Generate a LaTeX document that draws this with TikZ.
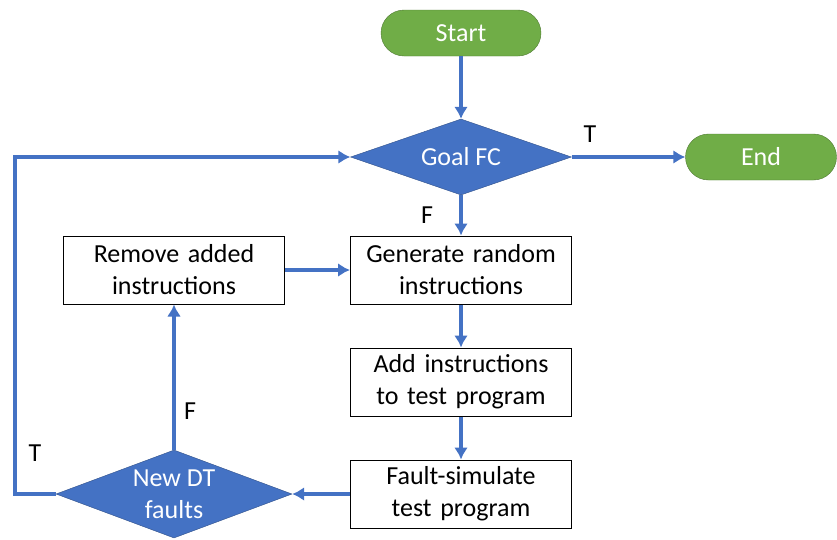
\documentclass[tikz,border=0pt]{standalone}
\usepackage{fontspec}
\setmainfont{Carlito}
\usetikzlibrary{arrows.meta,shapes.geometric}
\definecolor{fcblue}{HTML}{4472C4}
\definecolor{fcgreen}{HTML}{70AD47}

\begin{document}
\begin{tikzpicture}
		[x=1pt,y=-1pt,
		font=\fontsize{26}{32}\selectfont,
		term/.style ={rectangle, draw=fcgreen!70!black, fill=fcgreen, text=white, rounded corners=23pt, minimum width=160, minimum height=46},
		block/.style ={rectangle, draw=black, line width=1pt, fill=white, text width=215, align=center, minimum width=221, minimum height=68, inner sep=0pt},
		decision/.style ={diamond, draw=fcblue!70!black, fill=fcblue, text=white, align=center, inner sep=0pt, aspect=2.9, minimum width=221, minimum height=76},
		line/.style ={color=fcblue, line width=3.5pt, -{Latex[length=12pt,width=14pt]}}]
		\useasboundingbox (0,0) rectangle (837,539);

		\node[term] (start) at (461,33) {Start};
		\node[decision] (goal) at (461,157) {Goal FC};
		\node[term, minimum width=151] (end) at (761,157) {End};
		\node[block] (gen) at (461,270) {Generate random\\instructions};
		\node[block] (rem) at (174,270) {Remove added\\instructions};
		\node[block] (add) at (461,382) {Add instructions\\to test program};
		\node[block] (sim) at (461,494) {Fault-simulate\\test program};
		\node[decision, minimum width=236, minimum height=88] (newdt) at (174,494) {New DT\\faults};
		\coordinate (back) at (15,494);

		\path[line]
		(start) edge (goal)
		(goal) edge (end)
		(goal) edge (gen)
		(gen) edge (add)
		(add) edge (sim)
		(sim) edge (newdt)
		(newdt) edge (rem)
		(rem) edge (gen);

		\draw[line] (newdt.west) -- (back) |- (goal.west);

		\node (tend) at (590,134) {T};
		\node (fgen) at (427,215) {F};
		\node (frem) at (190,411) {F};
		\node (tback) at (35,453) {T};

	\end{tikzpicture}
\end{document}
